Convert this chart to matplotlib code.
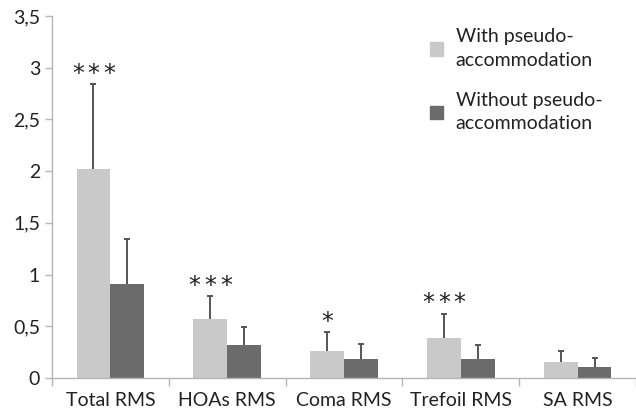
import numpy as np
import matplotlib.pyplot as plt
from matplotlib.patches import Patch

categories = ["Total RMS", "HOAs RMS", "Coma RMS", "Trefoil RMS", "SA RMS"]
with_pa = [2.02, 0.57, 0.26, 0.39, 0.15]
with_pa_sd = [0.82, 0.22, 0.18, 0.23, 0.11]
without_pa = [0.91, 0.32, 0.18, 0.18, 0.11]
without_pa_sd = [0.43, 0.17, 0.15, 0.14, 0.08]
n_stars = [3, 3, 1, 3, 0]

plt.rcParams["font.family"] = ["Lato", "DejaVu Sans"]

light = "#c9c9c9"
dark = "#6b6b6b"
axis_col = "#b5b5b5"
err_col = "#555555"

fig = plt.figure(figsize=(6.36, 4.12), dpi=100)
ax = fig.add_axes([52 / 636, 1 - 378 / 412, 1 - 52 / 636, (378 - 16) / 412])

x = np.arange(len(categories))
w = 0.29
ax.bar(x - w / 2, with_pa, w, color=light, zorder=2)
ax.bar(x + w / 2, without_pa, w, color=dark, zorder=2)

# upper-only error bars
for xs, vals, sds in [(x - w / 2, with_pa, with_pa_sd), (x + w / 2, without_pa, without_pa_sd)]:
    tops = np.array(vals) + np.array(sds)
    ax.vlines(xs, vals, tops, color=err_col, linewidth=1.4, zorder=3)
    ax.plot(xs, tops, linestyle="none", marker="_", markersize=5,
            markeredgewidth=1.4, color=err_col, zorder=3)

# significance stars, spaced out like the original
for i, n in enumerate(n_stars):
    for k in range(n):
        dx = (k - (n - 1) / 2) * 11.3
        ax.annotate("*", (x[i] - w / 2, with_pa[i] + with_pa_sd[i]),
                    xytext=(dx, -1), textcoords="offset points",
                    ha="center", va="bottom", fontsize=17, color="#222222",
                    family="DejaVu Sans")

ax.set_ylim(0, 3.5)
ax.set_xlim(-0.5, -0.5 + (636 - 52) / 117.5)
ax.set_yticks(np.arange(0, 3.51, 0.5))
ax.set_yticklabels(["0", "0,5", "1", "1,5", "2", "2,5", "3", "3,5"])
ax.set_xticks(x)
ax.set_xticklabels(categories)
ax.set_xticks(np.arange(-0.5, 4.6, 1.0), minor=True)
ax.tick_params(axis="x", which="major", length=0, labelsize=14, pad=10, colors="#222222")
ax.tick_params(axis="x", which="minor", length=6, color=axis_col, width=1)
ax.tick_params(axis="y", length=5, color=axis_col, width=1, labelsize=14, colors="#222222")
for sp in ["top", "right"]:
    ax.spines[sp].set_visible(False)
for sp in ["left", "bottom"]:
    ax.spines[sp].set_color(axis_col)
    ax.spines[sp].set_linewidth(1)

handles = [Patch(color=light), Patch(color=dark)]
labels = ["With pseudo-\naccommodation", "Without pseudo-\naccommodation"]
leg = fig.legend(handles, labels, loc="upper left", bbox_to_anchor=(412 / 636, 1 - 11 / 412),
                 frameon=False, fontsize=14, handlelength=0.7, handleheight=0.7,
                 handletextpad=0.65, labelspacing=1.2, labelcolor="#222222")
for t in leg.get_texts():
    t.set_linespacing(1.45)

fig.savefig("out.png", dpi=100)
